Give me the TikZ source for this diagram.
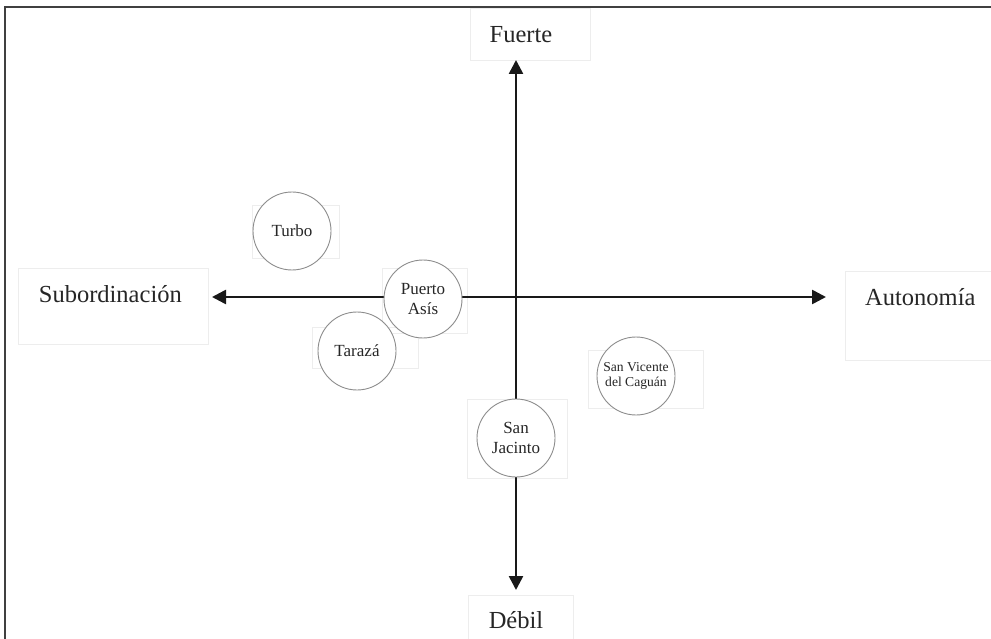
\documentclass[tikz,border=0pt]{standalone}
\usepackage{fontspec}
\setmainfont{Liberation Serif}
\usepackage{tikz}
\usetikzlibrary{arrows.meta, positioning}
\tikzstyle{axis} = [line width=2.6pt, draw=black!90, >={Triangle[length=14pt,width=14pt]}, <->]
\tikzstyle{border} = [line width=2.2pt, draw=black!75]
\tikzstyle{faintbox} = [line width=0.8pt, draw=black!7]
\tikzstyle{axislabel} = [inner sep=0pt, font=\fontsize{24.5}{28}\selectfont, text=black!85]
\tikzstyle{town} = [circle, draw=black!45, line width=0.9pt, fill=white, minimum size=78pt, inner sep=0pt, align=center, text=black!85, font=\fontsize{17}{20.5}\selectfont]
\tikzstyle{smalltown} = [font=\fontsize{13.6}{14.5}\selectfont]

\begin{document}
\begin{tikzpicture}[x=1pt, y=-1pt]
        \clip (0,0) rectangle (991,639);

        % Faint frames behind the texts
        \draw[faintbox] (470,8) rectangle (590,60);
        \draw[faintbox] (468,595) rectangle (573,645);
        \draw[faintbox] (18,268) rectangle (208,344);
        \draw[faintbox] (845,271) rectangle (1000,360);
        \draw[faintbox] (252,205) rectangle (339,258);
        \draw[faintbox] (382,268) rectangle (467,333);
        \draw[faintbox] (312,327) rectangle (418,368);
        \draw[faintbox] (588,350) rectangle (703,408);
        \draw[faintbox] (467,399) rectangle (567,478);

        % Border
        \draw[border] (5,645) -- (5,7) -- (1000,7);

        % Axes
        \coordinate (origin) at (516,297);
        \coordinate (axisN) at (516,60);
        \coordinate (axisS) at (516,590);
        \coordinate (axisW) at (212,297);
        \coordinate (axisE) at (826,297);
        \draw[axis] (axisW) -- (axisE);
        \draw[axis] (axisN) -- (axisS);

        % Axis labels
        \node (fuerte) [axislabel, above=17pt of axisN, xshift=5pt] {Fuerte};
        \node (debil) [axislabel, below=21pt of axisS] {Débil};
        \node (subord) [axislabel, left=30pt of axisW, yshift=3pt] {Subordinación};
        \node (auton) [axislabel, right=39pt of axisE] {Autonomía};

        % Municipalities
        \node (turbo) [town] at (292,231) {Turbo};
        \node (puerto) [town] at (423,299) {Puerto\\Asís};
        \node (taraza) [town] at (357,351) {Tarazá};
        \node (vicente) [town, smalltown] at (636,376) {San Vicente\\del Caguán};
        \node (jacinto) [town] at (516,438) {San\\Jacinto};
    \end{tikzpicture}
\end{document}
